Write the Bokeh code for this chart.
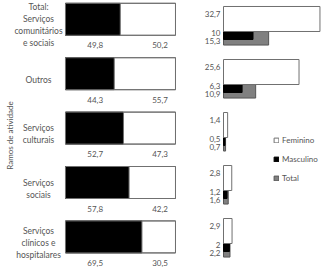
from math import pi
from bokeh.plotting import figure
from bokeh.models import Range1d, Label, Legend, LegendItem, ColumnDataSource
from bokeh.core.properties import value
from bokeh.embed import file_html
from bokeh.resources import INLINE

categories = ["Total:\nServiços\ncomunitários\ne sociais", "Outros", "Serviços\nculturais",
              "Serviços\nsociais", "Serviços\nclínicos e\nhospitalares"]
share_masculino = [49.8, 44.3, 52.7, 57.8, 69.5]
share_feminino = [50.2, 55.7, 47.3, 42.2, 30.5]
rate_feminino = [32.7, 25.6, 1.4, 2.8, 2.9]
rate_masculino = [10, 6.3, 0.5, 1.2, 2]
rate_total = [15.3, 10.9, 0.7, 1.6, 2.2]
legend_labels = ["Feminino", "Masculino", "Total"]
axis_title = "Ramos de atividade"

FONT = "Lato"
TXT = "#555555"
EDGE = "#707070"
GRAY = "#808080"

def fmt(v):
    return f"{v:g}".replace(".", ",")

n = len(categories)
idx = list(range(n))

p = figure(width=322, height=269, output_backend="svg", toolbar_location=None,
           x_range=Range1d(-59.09, 233.64), y_range=Range1d(4.599, -0.3456),
           min_border=0, outline_line_color=None, background_fill_color="white")
p.extra_x_ranges = {"rx": Range1d(-75.6, 33.56)}
p.extra_y_ranges = {"ry": Range1d(4.962, -0.1132)}
p.xaxis.visible = False
p.yaxis.visible = False
p.grid.visible = False

# Left panel: 100% stacked bars
src = ColumnDataSource(dict(y=idx, m=share_masculino, f=share_feminino,
                            right_f=[a + b for a, b in zip(share_masculino, share_feminino)],
                            cat=categories,
                            lm=[fmt(v) for v in share_masculino],
                            lf=[fmt(v) for v in share_feminino]))
H = 0.588
p.hbar(y="y", left=0, right="m", height=H, source=src, fill_color="black", line_color="black", line_width=1)
p.hbar(y="y", left="m", right="right_f", height=H, source=src, fill_color="white", line_color=EDGE, line_width=1)
p.rect(x=50, y="y", width=100, height=H, source=src, fill_color=None, line_color=EDGE, line_width=1)

p.text(x=27, y="y", text="lm", source=src, y_offset=26, text_align="center", text_baseline="middle",
       text_font=value(FONT), text_font_size="8px", text_color=TXT)
p.text(x=86, y="y", text="lf", source=src, y_offset=26, text_align="center", text_baseline="middle",
       text_font=value(FONT), text_font_size="8px", text_color=TXT)

p.text(x=0, y="y", text="cat", source=src, x_offset=-27, y_offset=6, text_align="center",
       text_baseline="middle", text_font=value(FONT), text_font_size="8.5px", text_color=TXT,
       text_line_height=1.2)

# Right panel: rates
rsrc = ColumnDataSource(dict(
    yw=[i + 0.2358 for i in idx], yb=[i + 0.547 for i in idx], yg=[i + 0.6 for i in idx],
    fem=rate_feminino, mas=rate_masculino, tot=rate_total,
    ytw=[i + 7.5 / 53 for i in idx], ytb=[i + 26.5 / 53 for i in idx], ytg=[i + 34.6 / 53 for i in idx],
    lw=[fmt(v) for v in rate_feminino], lb=[fmt(v) for v in rate_masculino], lg=[fmt(v) for v in rate_total]))

rg = p.hbar(y="yg", left=0, right="tot", height=13.5 / 53, source=rsrc, x_range_name="rx", y_range_name="ry",
            fill_color=GRAY, line_color="#555555", line_width=1)
rb = p.hbar(y="yb", left=0, right="mas", height=8 / 53, source=rsrc, x_range_name="rx", y_range_name="ry",
            fill_color="black", line_color="black", line_width=1)
rw = p.hbar(y="yw", left=0, right="fem", height=25 / 53, source=rsrc, x_range_name="rx", y_range_name="ry",
            fill_color="white", line_color=EDGE, line_width=1)

for col, ycol in (("lw", "ytw"), ("lb", "ytb"), ("lg", "ytg")):
    p.text(x=0, y=ycol, text=col, source=rsrc, x_range_name="rx", y_range_name="ry", x_offset=-3,
           text_align="right", text_baseline="middle", text_font=value(FONT), text_font_size="8px",
           text_color=TXT)

legend = Legend(items=[LegendItem(label=legend_labels[0], renderers=[rw]),
                       LegendItem(label=legend_labels[1], renderers=[rb]),
                       LegendItem(label=legend_labels[2], renderers=[rg])],
                location=(273, 86), orientation="vertical", glyph_width=6, glyph_height=6,
                label_height=6, spacing=9, padding=0, margin=0, label_standoff=3,
                border_line_color=None, background_fill_alpha=0,
                label_text_font=FONT, label_text_font_size="8px", label_text_color=TXT)
p.add_layout(legend, "center")

p.add_layout(Label(x=9, y=134, x_units="screen", y_units="screen", text=axis_title, angle=pi / 2,
                   text_align="center", text_baseline="middle", text_font=FONT, text_font_size="8px",
                   text_color=TXT))

open("out.html", "w").write(file_html(p, INLINE))
